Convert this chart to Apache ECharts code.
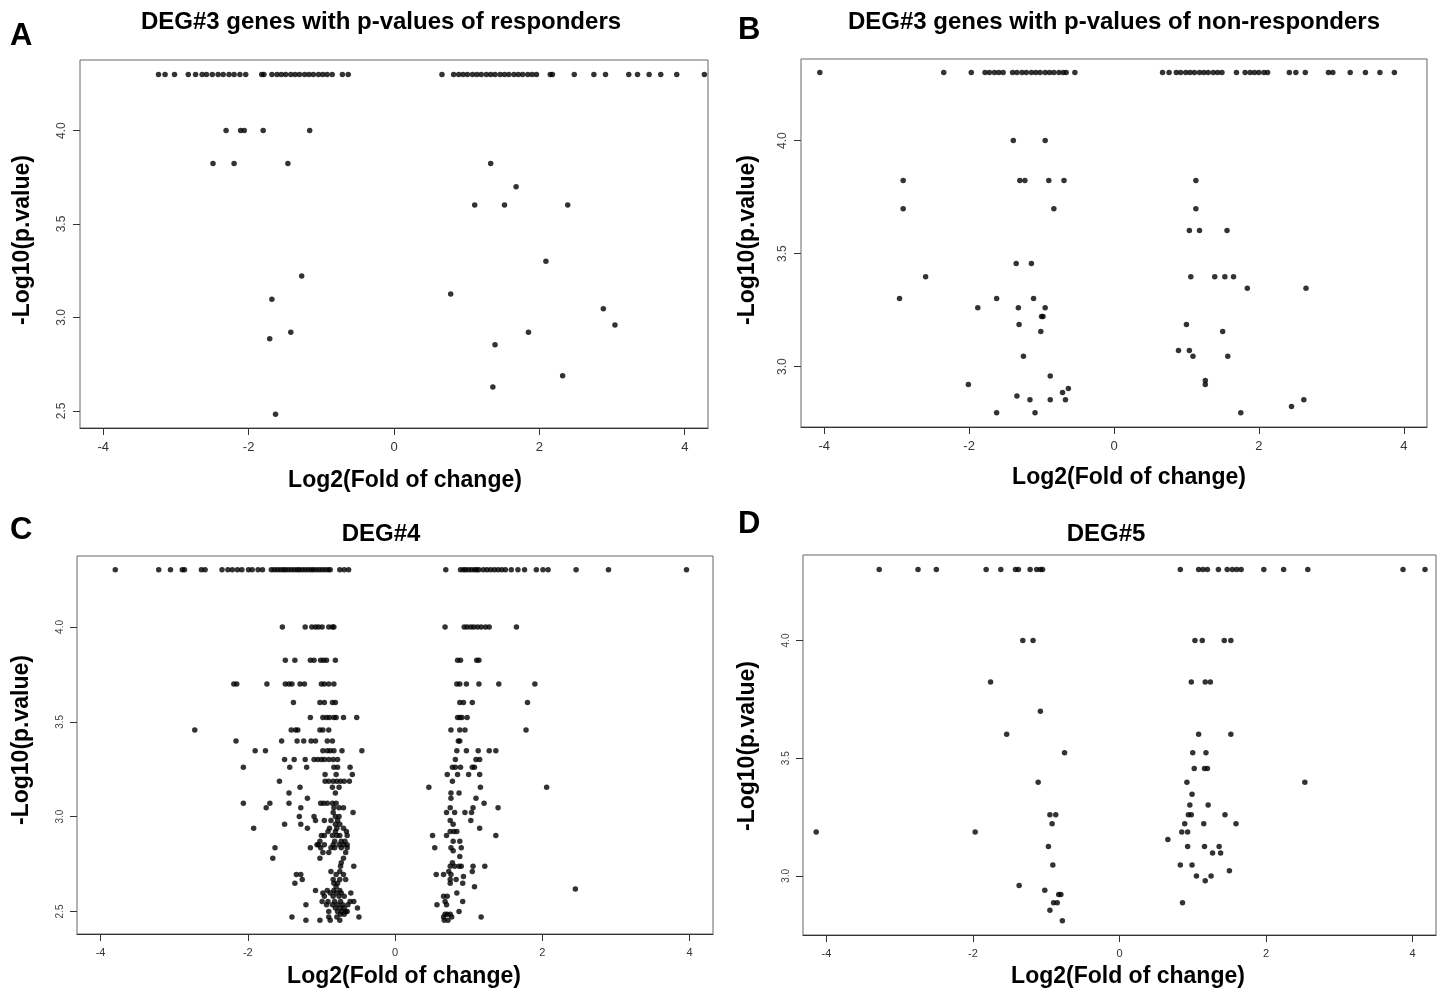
<!DOCTYPE html>
<html>
<head>
<meta charset="utf-8">
<script src="https://cdn.jsdelivr.net/npm/echarts@6/dist/echarts.min.js"></script>
<style>
  html, body { margin: 0; padding: 0; background: #fff; }
  #chart { width: 1442px; height: 990px; }
</style>
</head>
<body>
<div id="chart"></div>
<script>
// rows of [ -log10(p), [log2 fold changes...] ]
const respondersA = [
  [4.301, [-3.24, -3.15, -3.02, -2.83, -2.73, -2.64, -2.58, -2.50, -2.42, -2.35, -2.27, -2.20, -2.12, -2.04, -1.82, -1.79, -1.68, -1.61, -1.55, -1.49, -1.42, -1.36, -1.30, -1.23, -1.17, -1.11, -1.04, -0.98, -0.92, -0.85, -0.71, -0.63,
    0.66, 0.82, 0.89, 0.95, 1.01, 1.08, 1.14, 1.20, 1.27, 1.33, 1.39, 1.46, 1.52, 1.58, 1.65, 1.71, 1.77, 1.84, 1.90, 1.96, 2.15, 2.18, 2.48, 2.75, 2.91, 3.23, 3.35, 3.51, 3.67, 3.89, 4.27]],
  [4.000, [-2.31, -2.11, -2.06, -1.80, -1.16]],
  [3.824, [-2.49, -2.20, -1.46, 1.33]],
  [3.699, [1.68]],
  [3.602, [1.11, 1.52, 2.39]],
  [3.301, [2.09]],
  [3.222, [-1.27]],
  [3.125, [0.78]],
  [3.097, [-1.68]],
  [3.046, [2.88]],
  [2.959, [3.04]],
  [2.921, [-1.42, 1.85]],
  [2.886, [-1.71]],
  [2.854, [1.39]],
  [2.688, [2.32]],
  [2.628, [1.36]],
  [2.482, [-1.63]]
]

const nonRespondersB = [
  [4.301, [-4.06, -2.35, -1.97, -1.78, -1.72, -1.65, -1.59, -1.53, -1.40, -1.34, -1.27, -1.21, -1.14, -1.08, -1.02, -0.95, -0.89, -0.83, -0.76, -0.70, -0.66, -0.54,
    0.67, 0.76, 0.86, 0.92, 0.99, 1.05, 1.11, 1.18, 1.24, 1.30, 1.37, 1.43, 1.49, 1.69, 1.81, 1.88, 1.94, 2.00, 2.07, 2.12, 2.42, 2.51, 2.64, 2.96, 3.02, 3.26, 3.47, 3.67, 3.87]],
  [4.000, [-1.39, -0.95]],
  [3.824, [-2.91, -1.30, -1.23, -0.90, -0.69, 1.13]],
  [3.699, [-2.91, -0.83, 1.13]],
  [3.602, [1.04, 1.18, 1.56]],
  [3.456, [-1.35, -1.14]],
  [3.398, [-2.60, 1.06, 1.39, 1.53, 1.65]],
  [3.347, [1.84, 2.65]],
  [3.301, [-2.96, -1.62, -1.11]],
  [3.260, [-1.88, -1.32, -0.95]],
  [3.222, [-1.00, -0.98]],
  [3.187, [-1.31, 1.00]],
  [3.155, [-1.01, 1.50]],
  [3.071, [0.89, 1.04]],
  [3.046, [-1.25, 1.09, 1.57]],
  [2.959, [-0.88]],
  [2.939, [1.26]],
  [2.921, [-2.01, 1.26]],
  [2.903, [-0.63]],
  [2.886, [-0.71]],
  [2.870, [-1.34]],
  [2.854, [-1.16, -0.88, -0.67, 2.62]],
  [2.824, [2.45]],
  [2.796, [-1.62, -1.09, 1.75]]
]

const deg4C = [
  [4.301, [-3.80, -3.21, -3.05, -2.89, -2.86, -2.63, -2.58, -2.35, -2.27, -2.21, -2.14, -2.08, -1.99, -1.94, -1.86, -1.80, -1.68, -1.64, -1.60, -1.56, -1.52, -1.49, -1.45, -1.41, -1.37, -1.33, -1.30, -1.26, -1.22, -1.18, -1.14, -1.11, -1.07, -1.03, -0.99, -0.95, -0.91, -0.88, -0.75, -0.69, -0.63,
    0.69, 0.89, 0.93, 0.96, 1.00, 1.04, 1.08, 1.11, 1.14, 1.20, 1.25, 1.30, 1.35, 1.40, 1.45, 1.50, 1.58, 1.67, 1.76, 1.92, 2.01, 2.08, 2.46, 2.90, 3.96]],
  [4.000, [-1.53, -1.22, -1.13, -1.08, -1.04, -0.99, -0.90, -0.85, -0.83, 0.68, 0.94, 0.98, 1.03, 1.07, 1.12, 1.17, 1.23, 1.28, 1.65]],
  [3.824, [-1.49, -1.36, -1.15, -1.10, -1.01, -0.97, -0.93, -0.81, 0.85, 0.89, 1.11, 1.14]],
  [3.699, [-2.19, -2.15, -1.74, -1.49, -1.44, -1.40, -1.29, -1.23, -1.00, -0.96, -0.90, -0.83, 0.84, 0.88, 0.97, 1.14, 1.41, 1.90]],
  [3.602, [-1.38, -1.02, -0.96, -0.85, -0.81, 0.88, 0.93, 1.05, 1.80]],
  [3.523, [-1.15, -0.98, -0.93, -0.89, -0.83, -0.80, -0.70, -0.52, 0.85, 0.88, 0.91, 0.98]],
  [3.456, [-2.72, -1.41, -1.35, -1.32, -1.02, -0.98, -0.90, 0.76, 0.88, 0.95, 1.78]],
  [3.398, [-2.16, -1.54, -1.33, -1.24, -1.14, -1.08, -0.92, -0.85, 0.86, 0.88]],
  [3.347, [-1.90, -1.76, -0.98, -0.92, -0.88, -0.83, -0.72, -0.45, 0.84, 0.97, 1.13, 1.28, 1.37]],
  [3.301, [-1.50, -1.37, -1.22, -1.10, -1.05, -1.00, -0.96, -0.90, -0.84, -0.78, 0.82, 1.10, 1.15]],
  [3.260, [-2.06, -1.43, -1.20, -0.83, -0.78, -0.61, 0.78, 0.82, 0.89, 1.05, 1.08]],
  [3.222, [-0.95, -0.80, -0.58, 0.71, 0.85, 1.00, 1.15]],
  [3.187, [-1.57, -0.95, -0.90, -0.84, -0.79, -0.74, -0.69, -0.62, 0.78]],
  [3.155, [-1.29, -0.85, -0.76, 0.46, 1.16, 2.06]],
  [3.125, [-1.44, -0.81, 0.76, 0.87]],
  [3.097, [-1.19, 0.76, 1.10]],
  [3.071, [-2.06, -1.70, -1.44, -1.01, -0.97, -0.92, -0.85, -0.80, 1.21]],
  [3.046, [-1.75, -1.28, -0.83, -0.76, -0.70, 0.75, 1.06, 1.40]],
  [3.022, [-0.84, -0.57, 0.70, 0.81, 0.95, 1.04]],
  [3.000, [-1.30, -1.10, -0.81, -0.76]],
  [2.979, [-1.08, -0.96, -0.87, -0.78, 0.75, 1.03]],
  [2.959, [-1.50, -1.28, -0.81, -0.75, 0.79]],
  [2.939, [-1.92, -1.19, -0.89, -0.79, -0.70, 1.15]],
  [2.921, [-0.91, -0.81, -0.66, 0.75, 0.80, 0.84]],
  [2.900, [-1.00, -0.96, -0.85, -0.79, -0.75, -0.65, 0.51, 0.70, 1.37]],
  [2.870, [-1.02, -0.82, -0.73, -0.68, 0.79, 0.88]],
  [2.851, [-1.06, -1.04, -0.96, -0.84, -0.76, -0.70, -0.65]],
  [2.836, [-1.63, -1.15, -1.01, -0.87, -0.82, -0.73, -0.65, 0.54, 0.76, 0.90]],
  [2.820, [0.79]],
  [2.811, [-0.98, -0.90, -0.67]],
  [2.790, [0.88]],
  [2.781, [-1.66, -1.02, -0.70]],
  [2.757, [-0.73, 0.78]],
  [2.738, [-0.74, -0.56, 0.75, 0.81, 0.87, 0.90, 1.06, 1.22]],
  [2.711, [-0.87, -0.75, 0.73, 1.05]],
  [2.695, [-1.34, -1.28, -0.80, -0.70, 0.56, 0.66, 0.76]],
  [2.684, [0.93]],
  [2.669, [-1.26, -0.84, -0.75, -0.67, 0.75, 0.83]],
  [2.648, [-1.36, -0.83, -0.78, 0.75, 0.92]],
  [2.630, [-0.80, 1.08]],
  [2.618, [2.45]],
  [2.611, [-1.08, -0.92, -0.83, -0.75]],
  [2.597, [-0.98, -0.88, -0.80, -0.73, -0.60, 0.84]],
  [2.580, [-0.96, -0.84, -0.76, -0.69, 0.66, 0.71]],
  [2.553, [-0.99, -0.91, -0.82, -0.74, -0.61, -0.56, 0.68, 0.92]],
  [2.535, [-1.21, -0.93, -0.85, -0.78, -0.71, -0.64, 0.57, 0.70]],
  [2.518, [-0.81, -0.74, -0.69, -0.51]],
  [2.500, [-0.90, -0.78, -0.72, -0.67, -0.65, 0.87]],
  [2.485, [-0.74, -0.69, 0.68, 0.71, 0.75]],
  [2.471, [-1.40, -0.90, -0.79, -0.49, 0.66, 0.77, 1.17]],
  [2.453, [-1.21, -1.02, -0.88, -0.75, 0.67, 0.72]]
]

const deg5D = [
  [4.301, [-3.28, -2.75, -2.50, -1.82, -1.62, -1.42, -1.38, -1.22, -1.13, -1.08, -1.05, 0.83, 1.08, 1.14, 1.20, 1.35, 1.47, 1.54, 1.60, 1.66, 1.97, 2.24, 2.57, 3.87, 4.17]],
  [4.000, [-1.32, -1.18, 1.03, 1.13, 1.43, 1.52]],
  [3.824, [-1.76, 0.98, 1.17, 1.24]],
  [3.699, [-1.08]],
  [3.602, [-1.54, 1.08, 1.52]],
  [3.523, [-0.75, 1.00, 1.18]],
  [3.456, [1.02, 1.16, 1.20]],
  [3.398, [-1.11, 0.92, 2.53]],
  [3.347, [0.99]],
  [3.301, [0.96, 1.21]],
  [3.260, [-0.95, -0.87, 0.94, 0.98, 1.44]],
  [3.222, [-0.92, 0.89, 1.15, 1.59]],
  [3.187, [-4.14, -1.97, 0.85, 0.93]],
  [3.155, [0.66]],
  [3.125, [-0.97, 0.93, 1.16, 1.36]],
  [3.097, [1.27, 1.38]],
  [3.046, [-0.91, 0.83, 0.99]],
  [3.022, [1.50]],
  [3.000, [1.05, 1.25]],
  [2.979, [1.17]],
  [2.959, [-1.37]],
  [2.939, [-1.02]],
  [2.921, [-0.83, -0.80]],
  [2.886, [-0.90, -0.85, 0.86]],
  [2.854, [-0.95]],
  [2.810, [-0.78]]
]

const xTicks = [-4, -2, 0, 2, 4]
const yTicksAC = [2.5, 3.0, 3.5, 4.0]
const yTicksBD = [3.0, 3.5, 4.0]

const panelLetters = ['A', 'B', 'C', 'D']
const panelTitles = [
  'DEG#3 genes with p-values of responders',
  'DEG#3 genes with p-values of non-responders',
  'DEG#4',
  'DEG#5'
]
const xName = 'Log2(Fold of change)'
const yName = '-Log10(p.value)'

const FONT = '"Liberation Sans", Arial, sans-serif'

// pixel layout of the four panels
const panels = [
  { data: respondersA, grid: { left: 80, top: 60, width: 628, height: 368 }, yMin: 2.408, yMax: 4.378, yTicks: yTicksAC, tick: 13,
    letter: [10, 36], title: [381, 22], xLab: [405, 481], yLab: [23, 240] },
  { data: nonRespondersB, grid: { left: 801, top: 59, width: 626, height: 368 }, yMin: 2.733, yMax: 4.361, yTicks: yTicksBD, tick: 13,
    letter: [738, 30], title: [1114, 22], xLab: [1129, 478], yLab: [748, 240] },
  { data: deg4C, grid: { left: 77, top: 556, width: 636, height: 378 }, yMin: 2.381, yMax: 4.374, yTicks: yTicksAC, tick: 11,
    letter: [10, 530], title: [381, 534], xLab: [404, 977], yLab: [22, 740] },
  { data: deg5D, grid: { left: 803, top: 555, width: 633, height: 380 }, yMin: 2.749, yMax: 4.363, yTicks: yTicksBD, tick: 11,
    letter: [738, 524], title: [1106, 534], xLab: [1128, 977], yLab: [748, 746] }
]

function toPoints (rows) {
  const pts = []
  rows.forEach(([y, xs]) => xs.forEach(x => pts.push([x, y])))
  return pts
}

const grid = []
const xAxis = []
const yAxis = []
const series = []
const graphic = []

panels.forEach((p, i) => {
  grid.push({ ...p.grid, show: true, borderColor: '#666', borderWidth: 1, backgroundColor: '#fff' })
  xAxis.push({
    gridIndex: i,
    type: 'value',
    min: -4.32,
    max: 4.32,
    axisLine: { show: true, onZero: false, lineStyle: { color: '#333', width: 1 } },
    axisTick: { show: true, length: 7, customValues: xTicks, lineStyle: { color: '#333' } },
    axisLabel: { customValues: xTicks, margin: 13, fontSize: p.tick, color: '#333', fontFamily: FONT },
    splitLine: { show: false }
  })
  yAxis.push({
    gridIndex: i,
    type: 'value',
    position: 'left',
    min: p.yMin,
    max: p.yMax,
    axisLine: { show: false, onZero: false },
    axisTick: { show: true, length: 7, customValues: p.yTicks, lineStyle: { color: '#333' } },
    axisLabel: {
      customValues: p.yTicks,
      rotate: 90,
      margin: 12,
      fontSize: p.tick - 1,
      color: '#444',
      fontFamily: FONT,
      formatter: v => v.toFixed(1)
    },
    splitLine: { show: false }
  })
  series.push({
    type: 'scatter',
    xAxisIndex: i,
    yAxisIndex: i,
    symbolSize: 5.5,
    silent: true,
    itemStyle: { color: '#000' },
    data: toPoints(p.data)
  })

  graphic.push(
    { type: 'text', x: p.letter[0], y: p.letter[1],
      style: { text: panelLetters[i], font: 'bold 31px ' + FONT, fill: '#000', textVerticalAlign: 'middle' } },
    { type: 'text', x: p.title[0], y: p.title[1],
      style: { text: panelTitles[i], font: 'bold 24px ' + FONT, fill: '#000', textAlign: 'center', textVerticalAlign: 'middle' } },
    { type: 'text', x: p.xLab[0], y: p.xLab[1],
      style: { text: xName, font: 'bold 23px ' + FONT, fill: '#000', textAlign: 'center', textVerticalAlign: 'middle' } },
    { type: 'text', x: p.yLab[0], y: p.yLab[1], rotation: Math.PI / 2,
      style: { text: yName, font: 'bold 23px ' + FONT, fill: '#000', textAlign: 'center', textVerticalAlign: 'middle' } }
  )
})

const chart = echarts.init(document.getElementById('chart'), null, { renderer: 'canvas' })
chart.setOption({
  backgroundColor: '#fff',
  animation: false,
  grid,
  xAxis,
  yAxis,
  series,
  graphic
})
</script>
</body>
</html>
